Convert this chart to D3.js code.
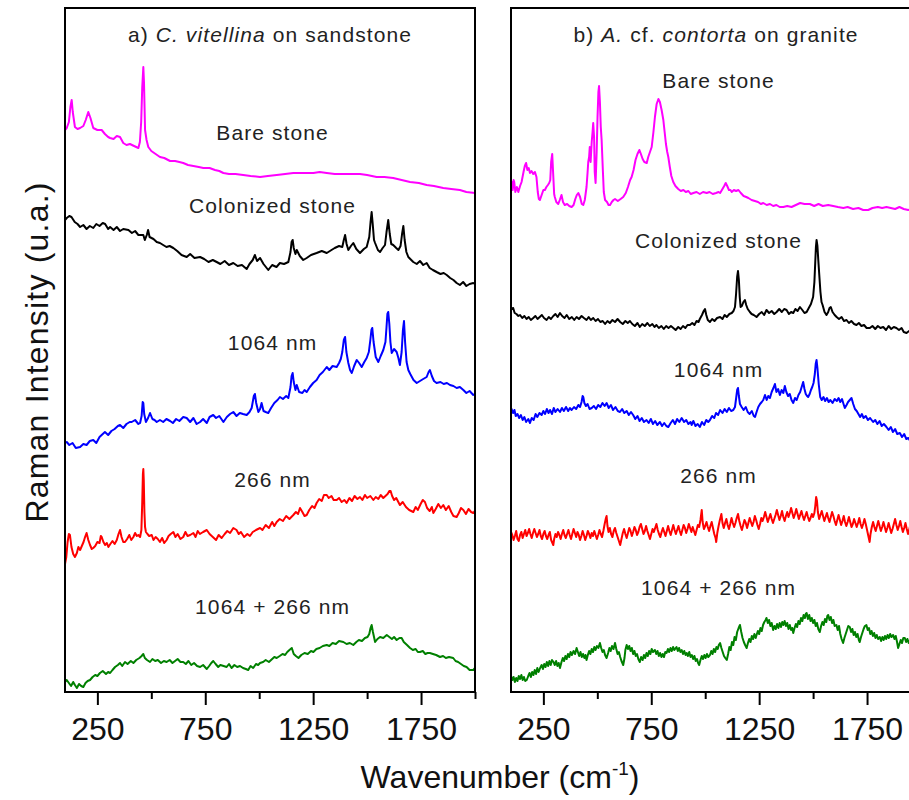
<!DOCTYPE html>
<html><head><meta charset="utf-8">
<script src="https://cdn.jsdelivr.net/npm/d3@7"></script>
<style>
html,body{margin:0;padding:0;background:#fff;}
svg{display:block;font-family:"Liberation Sans",Arial,sans-serif;}
</style></head>
<body>
<svg id="chart" width="909" height="800"></svg>
<script>
// ---- data: [wavenumber (cm-1), Raman intensity (arbitrary units, stacked offsets)] ----
const bareA = [[100,562],[108,564],[118,570],[125,585],[131,592],[136,580],[146,565],[158,563],[170,564],[185,566],[196,572],[208,580],[218,574],[231,564],[250,562],[270,562],[285,558],[300,555],[309,554],[325,553],[340,556],[355,555],[370,549],[385,547],[401,548],[420,546],[440,544],[447,550],[453,570],[458,605],[463,625],[466,610],[471,562],[478,552],[486,545],[500,541],[520,538],[540,535],[560,534],[587,531],[610,531],[630,530],[648,529],[670,527],[695,526],[720,525],[741,524],[770,524],[795,522],[815,521],[834,519],[860,518],[890,518],[926,517],[960,516],[1004,515],[1040,516],[1081,517],[1120,518],[1158,519],[1200,519],[1251,519],[1280,520],[1313,519],[1350,518],[1390,518],[1430,518],[1467,518],[1500,517],[1544,515],[1580,515],[1621,514],[1660,512],[1699,510],[1740,509],[1776,507],[1810,506],[1853,504],[1890,503],[1930,502],[1960,500],[2000,499]];
const colonizedA = [[100,472],[108,474],[120,476],[130,475],[145,470],[158,468],[170,465],[185,467],[200,463],[215,466],[231,464],[245,468],[260,466],[275,469],[286,468],[300,463],[309,465],[325,462],[340,465],[355,461],[370,463],[394,462],[410,459],[425,461],[440,457],[463,457],[470,452],[479,457],[485,462],[492,455],[510,453],[525,450],[540,449],[555,447],[570,445],[585,446],[602,444],[620,441],[640,437],[664,435],[680,438],[700,434],[726,435],[745,433],[765,430],[785,432],[803,430],[820,428],[840,431],[860,427],[880,429],[900,426],[920,427],[942,423],[955,428],[970,432],[980,437],[990,431],[1004,434],[1020,428],[1042,422],[1060,427],[1080,425],[1096,429],[1115,428],[1135,430],[1145,440],[1150,450],[1155,452],[1160,444],[1168,438],[1174,442],[1188,436],[1204,432],[1220,434],[1240,437],[1266,439],[1290,441],[1313,439],[1335,442],[1350,444],[1370,446],[1385,445],[1392,452],[1398,457],[1405,448],[1413,442],[1425,446],[1436,449],[1450,443],[1467,439],[1485,443],[1498,445],[1510,455],[1516,470],[1521,480],[1526,468],[1532,452],[1537,449],[1550,442],[1560,440],[1572,444],[1583,447],[1590,460],[1598,472],[1605,458],[1612,448],[1621,447],[1635,444],[1645,442],[1655,446],[1662,458],[1668,466],[1674,452],[1682,440],[1691,435],[1700,433],[1714,430],[1730,428],[1745,431],[1760,427],[1776,429],[1790,424],[1805,422],[1822,420],[1840,418],[1855,419],[1869,417],[1885,414],[1900,412],[1915,409],[1930,407],[1945,410],[1960,406],[1975,408],[1992,409],[2000,408]];
const nm1064A = [[100,249],[108,250],[120,247],[135,249],[150,244],[170,245],[185,248],[200,247],[215,251],[231,252],[245,249],[260,255],[275,258],[285,260],[300,257],[315,261],[330,263],[345,266],[355,267],[370,264],[385,268],[400,270],[409,270],[425,272],[440,268],[448,269],[455,276],[460,290],[463,289],[467,278],[475,270],[485,274],[494,279],[505,273],[515,272],[525,270],[540,272],[555,270],[570,273],[587,271],[600,269],[615,273],[630,271],[648,275],[664,274],[680,270],[695,274],[710,268],[726,270],[740,273],[757,269],[770,275],[787,277],[800,274],[815,276],[834,270],[850,275],[865,278],[880,280],[895,276],[910,279],[925,278],[942,277],[955,280],[965,284],[975,296],[980,298],[986,289],[996,280],[1004,283],[1011,289],[1020,281],[1030,280],[1042,279],[1055,284],[1070,289],[1085,292],[1096,295],[1110,293],[1125,296],[1135,294],[1145,305],[1150,316],[1155,319],[1160,310],[1168,302],[1174,307],[1185,300],[1200,299],[1210,302],[1220,300],[1235,305],[1250,309],[1266,312],[1280,317],[1295,320],[1313,325],[1325,322],[1340,326],[1359,325],[1370,329],[1378,333],[1385,340],[1392,352],[1398,355],[1404,340],[1413,329],[1421,322],[1429,319],[1440,326],[1452,332],[1463,329],[1475,325],[1487,330],[1498,334],[1508,340],[1515,352],[1520,362],[1524,364],[1530,350],[1540,335],[1552,330],[1563,336],[1575,342],[1585,350],[1590,365],[1594,378],[1598,380],[1603,368],[1608,350],[1614,339],[1625,343],[1637,340],[1645,334],[1652,327],[1660,340],[1666,362],[1671,371],[1676,350],[1683,330],[1691,322],[1700,318],[1715,312],[1730,309],[1745,311],[1760,313],[1776,315],[1785,320],[1791,322],[1800,316],[1810,311],[1822,309],[1840,310],[1855,308],[1870,309],[1884,307],[1900,306],[1915,304],[1930,305],[1946,302],[1960,299],[1975,301],[1992,297],[2000,298]];
const nm266A = [[100,128],[106,135],[112,150],[118,158],[123,157],[130,145],[138,138],[146,135],[155,139],[162,145],[170,142],[178,146],[186,150],[193,155],[200,159],[208,152],[216,147],[224,143],[231,144],[240,146],[250,150],[260,149],[266,156],[270,155],[278,150],[286,147],[294,149],[301,145],[310,148],[320,151],[330,148],[340,152],[348,158],[355,162],[362,155],[370,150],[378,150],[388,153],[398,157],[407,152],[417,155],[425,159],[433,156],[440,157],[448,155],[454,162],[458,190],[461,218],[463,223],[465,212],[468,180],[471,165],[475,160],[482,158],[490,156],[502,157],[510,152],[520,155],[530,153],[540,150],[550,154],[560,149],[571,152],[580,156],[590,158],[602,160],[612,155],[622,158],[635,153],[648,155],[658,160],[668,156],[680,157],[695,159],[705,155],[715,161],[725,158],[740,160],[757,162],[770,158],[785,155],[800,152],[812,157],[826,154],[840,158],[852,161],[865,159],[880,164],[895,162],[905,158],[915,160],[930,155],[945,158],[957,156],[970,160],[985,162],[1004,164],[1015,162],[1030,167],[1045,164],[1060,170],[1070,166],[1081,170],[1095,173],[1110,171],[1125,176],[1140,173],[1158,177],[1170,180],[1180,178],[1189,184],[1200,180],[1210,176],[1220,177],[1232,182],[1245,186],[1256,184],[1266,189],[1278,193],[1290,191],[1300,197],[1313,197],[1322,194],[1335,196],[1345,192],[1359,192],[1370,194],[1382,190],[1395,192],[1405,189],[1418,194],[1430,191],[1442,196],[1455,193],[1467,195],[1478,192],[1490,197],[1500,194],[1515,196],[1529,192],[1540,195],[1552,193],[1563,197],[1575,194],[1585,196],[1595,198],[1603,201],[1609,201],[1616,196],[1625,192],[1635,194],[1652,187],[1665,190],[1680,185],[1695,182],[1714,180],[1725,185],[1735,182],[1748,188],[1758,192],[1768,190],[1778,184],[1790,181],[1800,185],[1807,179],[1818,183],[1830,188],[1842,184],[1853,187],[1865,182],[1878,186],[1890,180],[1900,176],[1915,175],[1925,179],[1935,184],[1946,182],[1958,178],[1970,183],[1982,180],[1992,179],[2000,181]];
const nmBothA = [[100,10],[108,12],[118,9],[128,6],[138,10],[146,7],[155,4],[165,8],[175,6],[185,5],[195,9],[205,11],[216,12],[228,15],[240,17],[250,16],[262,19],[275,21],[290,18],[300,20],[309,19],[320,22],[332,25],[345,27],[355,29],[365,26],[378,30],[390,28],[405,31],[417,29],[430,32],[445,34],[455,36],[463,38],[470,34],[480,32],[494,30],[505,33],[518,31],[530,32],[545,29],[558,31],[571,30],[585,32],[598,29],[610,31],[622,33],[635,30],[648,30],[660,28],[672,31],[685,27],[698,29],[712,26],[726,25],[740,27],[757,23],[768,26],[778,29],[787,31],[798,28],[810,25],[820,27],[835,26],[849,25],[860,28],[872,24],[885,27],[898,25],[911,26],[925,24],[938,23],[949,22],[960,26],[972,24],[985,28],[995,27],[1004,29],[1018,30],[1030,32],[1045,30],[1060,33],[1070,35],[1081,34],[1095,36],[1108,38],[1120,37],[1130,40],[1140,42],[1151,44],[1160,38],[1170,36],[1182,34],[1195,37],[1210,39],[1225,38],[1240,41],[1251,40],[1265,43],[1280,44],[1295,46],[1313,47],[1325,46],[1340,49],[1355,48],[1370,51],[1390,50],[1405,48],[1420,49],[1436,47],[1450,50],[1462,52],[1476,51],[1490,54],[1502,55],[1510,58],[1516,64],[1521,67],[1527,60],[1537,50],[1548,53],[1560,55],[1575,54],[1591,57],[1603,55],[1615,53],[1625,55],[1637,52],[1650,54],[1660,54],[1670,50],[1685,47],[1699,44],[1712,42],[1725,43],[1735,40],[1745,40],[1758,41],[1770,38],[1780,39],[1791,39],[1805,38],[1820,37],[1838,35],[1852,36],[1865,34],[1880,35],[1899,34],[1910,31],[1922,30],[1935,28],[1948,26],[1961,25],[1975,22],[1992,22],[2000,24]];

const bareB = [[100,505],[104,510],[108,502],[112,512],[115,510],[120,500],[127,505],[134,500],[142,506],[149,510],[158,520],[164,526],[170,529],[176,522],[182,524],[188,519],[195,521],[203,518],[211,520],[218,515],[224,500],[229,493],[234,492],[242,497],[250,502],[257,502],[264,505],[271,507],[277,509],[282,512],[286,530],[291,538],[295,520],[300,498],[303,495],[310,490],[319,488],[326,492],[334,497],[341,490],[349,487],[360,488],[370,486],[381,485],[390,487],[398,493],[405,497],[412,499],[420,495],[428,488],[435,487],[442,492],[450,505],[455,520],[458,530],[462,535],[465,545],[469,530],[474,550],[478,560],[481,569],[485,555],[488,520],[492,509],[497,540],[501,575],[505,600],[508,606],[512,590],[516,565],[520,552],[526,520],[530,500],[536,492],[545,490],[552,487],[559,487],[567,490],[575,492],[582,493],[595,491],[608,493],[620,495],[632,499],[642,505],[652,512],[659,515],[668,522],[677,532],[686,538],[695,542],[702,538],[710,533],[718,530],[729,529],[736,535],[744,540],[752,545],[760,560],[767,575],[775,588],[783,593],[790,590],[798,582],[806,572],[812,560],[818,548],[824,540],[829,535],[836,525],[843,516],[852,510],[862,506],[875,503],[887,501],[899,502],[910,500],[922,501],[933,498],[945,499],[960,500],[975,498],[990,500],[1007,499],[1020,500],[1035,498],[1050,499],[1062,500],[1069,499],[1080,503],[1088,506],[1095,509],[1102,506],[1110,502],[1117,502],[1123,500],[1133,502],[1143,501],[1154,502],[1165,499],[1178,496],[1190,495],[1200,494],[1215,492],[1230,491],[1245,490],[1258,488],[1269,489],[1285,487],[1300,488],[1315,486],[1330,487],[1345,485],[1362,485],[1380,486],[1400,485],[1420,487],[1440,489],[1460,488],[1485,488],[1505,486],[1525,488],[1545,486],[1570,487],[1593,486],[1615,485],[1640,484],[1660,485],[1685,483],[1710,484],[1732,482],[1755,482],[1775,484],[1800,485],[1820,484],[1840,485],[1860,484],[1880,483],[1900,485],[1920,483],[1941,482],[1960,483],[1980,482],[2000,482]];
const colonizedB = [[100,385],[105,383],[110,384],[117,379],[125,378],[134,376],[142,377],[152,374],[162,376],[172,373],[182,375],[192,372],[203,374],[213,376],[223,373],[233,375],[243,377],[253,374],[265,372],[275,375],[285,373],[296,376],[306,378],[316,375],[327,379],[337,376],[348,374],[358,377],[370,373],[382,375],[393,372],[404,375],[415,373],[427,376],[438,374],[450,372],[460,375],[470,372],[481,374],[492,371],[503,373],[514,370],[525,371],[536,368],[547,371],[558,369],[570,372],[582,370],[594,373],[606,370],[618,368],[630,371],[641,369],[651,371],[662,368],[674,366],[686,369],[697,365],[708,368],[720,366],[732,369],[743,366],[755,368],[765,365],[774,367],[785,364],[797,366],[808,363],[819,366],[830,364],[841,366],[852,364],[863,362],[875,365],[886,363],[897,366],[908,364],[918,367],[929,367],[940,369],[950,367],[960,371],[969,370],[975,373],[985,377],[993,381],[999,383],[1005,377],[1012,372],[1022,370],[1032,373],[1043,371],[1055,374],[1069,375],[1080,373],[1090,377],[1100,375],[1112,378],[1123,379],[1131,381],[1138,385],[1143,398],[1148,415],[1152,421],[1156,412],[1160,395],[1164,385],[1170,386],[1177,390],[1184,392],[1190,387],[1197,383],[1207,380],[1215,378],[1225,377],[1238,375],[1250,378],[1262,380],[1273,377],[1284,382],[1296,379],[1308,381],[1320,378],[1331,380],[1343,383],[1355,380],[1366,383],[1377,382],[1388,378],[1398,380],[1408,379],[1418,383],[1428,381],[1439,385],[1450,382],[1460,379],[1470,380],[1480,384],[1490,388],[1500,395],[1506,410],[1510,430],[1513,445],[1516,452],[1520,446],[1524,432],[1528,419],[1534,400],[1539,390],[1544,387],[1553,380],[1562,377],[1570,380],[1576,384],[1582,385],[1590,380],[1600,377],[1609,375],[1620,373],[1632,375],[1643,371],[1655,372],[1666,369],[1677,371],[1690,368],[1701,367],[1712,369],[1724,366],[1736,367],[1748,364],[1763,364],[1775,366],[1788,363],[1800,366],[1812,364],[1825,365],[1838,362],[1850,366],[1862,363],[1874,365],[1886,364],[1898,362],[1910,364],[1920,360],[1933,359],[1945,361],[1958,358],[1970,360],[1985,358],[2000,359]];
const nm1064B = [[100,284],[104,282],[110,279],[116,282],[122,276],[130,278],[138,274],[146,277],[154,272],[162,275],[170,270],[180,273],[188,269],[196,274],[205,272],[214,278],[222,275],[232,279],[242,277],[250,281],[258,278],[266,283],[274,279],[281,282],[290,278],[298,284],[306,280],[316,283],[327,280],[336,284],[345,281],[355,285],[365,281],[373,284],[381,282],[392,285],[402,283],[412,287],[420,285],[427,290],[432,296],[435,295],[440,289],[447,286],[455,288],[464,283],[474,284],[484,286],[494,283],[504,287],[514,285],[524,289],[534,286],[543,289],[553,284],[563,287],[573,282],[584,285],[595,281],[605,280],[615,283],[625,279],[636,281],[646,277],[656,280],[666,277],[676,273],[686,276],[696,271],[706,274],[716,270],[728,272],[738,269],[748,273],[758,268],[768,271],[778,267],[790,270],[800,266],[810,269],[820,266],[829,265],[840,269],[850,272],[860,268],[870,273],[880,270],[891,274],[902,270],[912,272],[922,268],[932,270],[937,267],[945,271],[955,266],[965,268],[975,265],[985,270],[995,267],[1005,272],[1014,270],[1022,272],[1032,276],[1042,274],[1050,279],[1060,277],[1069,282],[1080,279],[1090,283],[1100,280],[1110,284],[1120,281],[1130,282],[1138,285],[1144,295],[1148,302],[1152,304],[1156,296],[1161,288],[1169,285],[1178,282],[1188,285],[1197,280],[1206,278],[1216,281],[1225,276],[1231,275],[1238,280],[1246,285],[1254,288],[1262,290],[1269,292],[1277,297],[1285,292],[1292,296],[1300,294],[1308,300],[1316,304],[1323,308],[1330,300],[1338,303],[1346,297],[1354,302],[1362,299],[1369,306],[1376,300],[1384,296],[1392,298],[1400,292],[1408,289],[1416,294],[1424,292],[1432,297],[1440,300],[1447,305],[1454,310],[1460,303],[1466,298],[1472,296],[1477,295],[1484,298],[1490,302],[1496,305],[1502,309],[1508,318],[1512,328],[1516,332],[1520,324],[1526,308],[1533,295],[1540,292],[1548,295],[1556,291],[1564,294],[1572,290],[1580,292],[1590,289],[1600,293],[1610,291],[1618,294],[1626,290],[1634,293],[1641,288],[1647,284],[1655,287],[1662,290],[1670,292],[1678,294],[1686,288],[1694,283],[1702,281],[1710,278],[1718,275],[1726,278],[1734,274],[1744,276],[1754,272],[1764,274],[1778,270],[1788,272],[1798,268],[1808,271],[1818,266],[1828,268],[1840,265],[1850,262],[1860,265],[1870,260],[1880,263],[1890,258],[1902,259],[1912,255],[1922,258],[1932,253],[1941,254],[1950,251],[1960,255],[1970,252],[1980,254],[1990,251],[2000,252]];
const nm266B = [[100,160],[106,157],[112,152],[118,156],[124,161],[130,153],[136,151],[142,157],[148,160],[154,154],[160,158],[166,162],[172,156],[178,159],[184,163],[190,158],[196,154],[202,159],[208,163],[214,159],[220,155],[226,158],[232,162],[238,156],[244,153],[250,158],[256,161],[262,156],[268,153],[274,157],[280,160],[286,152],[292,149],[296,147],[300,153],[306,158],[312,155],[318,160],[324,157],[330,153],[336,158],[342,162],[348,157],[354,154],[360,158],[366,162],[372,157],[378,153],[384,158],[390,163],[396,159],[402,155],[408,160],[414,157],[420,152],[426,156],[432,161],[438,157],[444,152],[450,156],[456,161],[462,158],[468,154],[474,159],[480,156],[486,161],[492,157],[498,153],[504,157],[510,162],[516,158],[522,155],[528,161],[534,168],[540,174],[543,176],[547,166],[552,160],[558,164],[564,158],[570,155],[576,161],[582,164],[588,159],[594,155],[600,151],[606,147],[612,153],[618,159],[624,163],[630,158],[636,154],[642,159],[648,164],[654,161],[660,156],[666,160],[672,165],[678,162],[684,157],[690,160],[696,165],[702,168],[708,163],[714,158],[720,161],[726,166],[732,161],[738,157],[744,153],[750,158],[756,163],[762,160],[768,164],[774,168],[780,162],[786,158],[792,155],[798,160],[804,164],[810,160],[816,156],[822,161],[828,166],[834,161],[840,157],[846,162],[852,167],[858,162],[864,158],[870,162],[876,166],[882,161],[888,157],[894,162],[900,167],[906,164],[912,159],[918,163],[924,168],[930,164],[936,160],[942,165],[948,161],[954,157],[960,162],[966,167],[972,165],[978,172],[984,182],[988,170],[994,163],[1000,166],[1006,170],[1012,165],[1018,161],[1024,166],[1030,170],[1036,164],[1042,158],[1048,154],[1051,150],[1056,159],[1062,166],[1068,172],[1075,178],[1080,169],[1086,164],[1092,169],[1098,173],[1104,167],[1110,163],[1116,168],[1122,174],[1128,169],[1134,165],[1140,169],[1146,174],[1152,178],[1158,171],[1164,166],[1170,162],[1176,167],[1182,172],[1188,169],[1194,164],[1200,169],[1206,174],[1212,170],[1218,166],[1224,170],[1230,176],[1236,172],[1242,167],[1248,163],[1254,168],[1260,174],[1266,171],[1272,175],[1278,180],[1284,175],[1290,170],[1296,174],[1302,178],[1308,173],[1314,169],[1320,173],[1326,177],[1332,182],[1338,177],[1344,172],[1350,176],[1356,181],[1362,175],[1368,171],[1374,176],[1380,180],[1386,175],[1392,179],[1398,184],[1404,179],[1410,174],[1416,178],[1422,183],[1428,178],[1434,173],[1440,177],[1446,181],[1452,176],[1458,172],[1464,176],[1470,180],[1476,175],[1482,171],[1488,174],[1494,178],[1500,175],[1506,179],[1510,186],[1514,195],[1518,191],[1522,180],[1528,173],[1534,177],[1540,181],[1546,176],[1552,171],[1558,175],[1564,179],[1570,174],[1576,170],[1582,175],[1588,180],[1594,176],[1600,171],[1606,167],[1612,172],[1618,177],[1624,172],[1630,167],[1636,171],[1642,176],[1648,170],[1654,166],[1660,170],[1666,175],[1672,170],[1678,165],[1684,168],[1690,173],[1696,169],[1702,165],[1708,169],[1714,174],[1720,168],[1726,164],[1732,168],[1738,173],[1744,168],[1750,162],[1756,156],[1762,150],[1766,158],[1772,165],[1778,170],[1784,165],[1790,161],[1796,166],[1802,171],[1808,166],[1814,161],[1820,165],[1826,170],[1832,165],[1838,160],[1844,164],[1850,169],[1856,164],[1862,159],[1868,163],[1874,168],[1880,173],[1886,167],[1892,162],[1898,166],[1904,171],[1910,165],[1916,160],[1922,164],[1928,169],[1934,163],[1940,158],[1946,163],[1952,168],[1958,163],[1964,158],[1970,162],[1976,167],[1982,162],[1988,157],[1994,161],[2000,164]];
const nmBothB = [[100,16],[106,12],[112,15],[118,10],[124,14],[130,11],[136,16],[142,13],[148,17],[154,12],[160,15],[166,11],[173,12],[180,16],[186,19],[192,15],[198,20],[204,17],[210,22],[216,18],[222,24],[228,20],[235,24],[242,27],[248,23],[254,28],[260,25],[266,30],[272,26],[278,31],[284,27],[290,32],[297,30],[303,27],[309,31],[315,26],[321,29],[327,24],[334,30],[340,34],[346,31],[352,36],[358,33],[364,38],[370,35],[376,40],[382,37],[390,41],[397,38],[404,44],[410,40],[416,36],[422,40],[428,35],[434,38],[440,34],[445,37],[450,32],[456,37],[462,41],[468,38],[474,43],[480,40],[486,45],[492,42],[498,46],[505,44],[512,49],[518,44],[524,40],[530,42],[536,37],[543,34],[550,39],[556,44],[562,41],[568,46],[575,43],[582,49],[588,43],[594,38],[600,40],[606,35],[612,31],[620,27],[626,34],[630,42],[636,47],[642,43],[648,46],[654,41],[660,44],[666,38],[672,41],[678,36],[684,38],[690,33],[697,30],[703,35],[710,32],[716,37],[722,34],[728,39],[734,36],[740,41],[746,38],[752,43],[758,40],[767,42],[773,38],[779,41],[785,36],[791,39],[797,35],[803,38],[809,35],[815,40],[821,39],[827,43],[833,40],[839,44],[845,41],[851,45],[857,42],[867,45],[873,41],[879,44],[885,40],[891,42],[897,38],[903,41],[909,37],[914,39],[920,36],[926,40],[932,35],[938,37],[944,33],[950,36],[956,31],[962,33],[967,29],[972,27],[978,32],[984,36],[990,33],[996,37],[1002,34],[1008,38],[1014,35],[1022,37],[1028,41],[1034,38],[1040,43],[1046,40],[1052,45],[1058,43],[1063,47],[1069,49],[1075,44],[1081,40],[1087,36],[1093,34],[1100,32],[1106,38],[1112,45],[1118,42],[1124,50],[1130,47],[1136,55],[1142,52],[1148,60],[1155,64],[1161,67],[1167,60],[1173,54],[1179,50],[1185,47],[1192,44],[1198,49],[1204,53],[1210,50],[1216,56],[1222,53],[1228,58],[1234,54],[1238,57],[1244,61],[1250,58],[1256,64],[1262,61],[1268,67],[1274,70],[1280,72],[1284,74],[1290,69],[1296,72],[1302,66],[1308,69],[1315,62],[1321,66],[1327,63],[1333,68],[1339,64],[1345,69],[1351,65],[1357,70],[1362,67],[1368,71],[1374,66],[1380,69],[1386,63],[1392,67],[1398,62],[1403,64],[1408,59],[1414,64],[1420,68],[1426,65],[1432,71],[1438,68],[1444,74],[1450,71],[1456,77],[1462,74],[1466,78],[1470,79],[1476,73],[1482,77],[1488,71],[1494,74],[1500,69],[1506,72],[1512,66],[1518,69],[1524,63],[1531,60],[1537,66],[1543,70],[1549,67],[1555,73],[1561,70],[1566,76],[1570,77],[1576,72],[1582,75],[1588,69],[1594,72],[1600,66],[1608,67],[1614,62],[1620,66],[1626,58],[1632,53],[1639,49],[1645,54],[1651,58],[1657,62],[1663,66],[1670,65],[1676,60],[1682,63],[1688,57],[1694,60],[1700,55],[1706,58],[1712,52],[1716,50],[1722,55],[1728,59],[1734,63],[1740,66],[1747,67],[1753,62],[1759,64],[1765,58],[1771,61],[1777,56],[1783,59],[1789,54],[1795,57],[1801,53],[1809,55],[1815,51],[1821,55],[1827,52],[1833,56],[1839,53],[1845,57],[1851,54],[1857,58],[1863,55],[1871,57],[1877,53],[1883,56],[1889,50],[1894,44],[1900,48],[1906,52],[1912,49],[1918,54],[1925,54],[1931,50],[1937,53],[1943,49],[1949,52],[1955,48],[1961,51],[1967,47],[1973,50],[1979,47],[1985,51],[1991,48],[2000,52]];

const seriesNames = ["Bare stone", "Colonized stone", "1064 nm", "266 nm", "1064 + 266 nm"];
const seriesColors = ["#ff00ff", "#000000", "#0000ff", "#ff0000", "#008000"];
const panelASeries = [bareA, colonizedA, nm1064A, nm266A, nmBothA];
const panelBSeries = [bareB, colonizedB, nm1064B, nm266B, nmBothB];
// label baselines (same arbitrary intensity units)
const panelALabelLevels = [552, 479, 342, 205, 78];
const panelBLabelLevels = [604, 444, 315, 209, 97];
const majorTicks = [250, 750, 1250, 1750];
const minorTicks = [500, 1000, 1500, 2000];
const xDomain = [100, 2000];
const yDomain = [0, 684];

// ---- drawing ----
(function () {
const svg = d3.select("#chart");
svg.append("rect").attr("width", 909).attr("height", 800).attr("fill", "#fff");

const plotTop = 8, plotBottom = 692, pw = 410;
const y = d3.scaleLinear().domain(yDomain).range([plotBottom, plotTop]);

const panels = [
  {left: 65, series: panelASeries, levels: panelALabelLevels,
   title: [["a) ", "normal"], ["C. vitellina", "italic"], [" on sandstone", "normal"]]},
  {left: 511, series: panelBSeries, levels: panelBLabelLevels,
   title: [["b) ", "normal"], ["A.", "italic"], [" cf. ", "normal"], ["contorta", "italic"], [" on granite", "normal"]]}
];

panels.forEach((p, pi) => {
  const x = d3.scaleLinear().domain(xDomain).range([p.left, p.left + pw]);
  const g = svg.append("g");
  const clipId = "clip" + pi;
  svg.append("clipPath").attr("id", clipId).append("rect")
    .attr("x", p.left).attr("y", plotTop).attr("width", pw).attr("height", plotBottom - plotTop);

  const line = d3.line().x(d => x(d[0])).y(d => y(d[1]));
  p.series.forEach((s, i) => {
    g.append("path").datum(s)
      .attr("clip-path", `url(#${clipId})`)
      .attr("d", line)
      .attr("fill", "none")
      .attr("stroke", seriesColors[i])
      .attr("stroke-width", 2)
      .attr("stroke-linejoin", "round");
  });

  p.series.forEach((s, i) => {
    g.append("text")
      .attr("x", x(1062)).attr("y", y(p.levels[i]))
      .attr("text-anchor", "middle")
      .attr("font-size", 21).attr("letter-spacing", "1.1px")
      .attr("fill", "#222")
      .text(seriesNames[i]);
  });

  const t = g.append("text")
    .attr("x", p.left + pw / 2).attr("y", 42)
    .attr("text-anchor", "middle")
    .attr("font-size", 21).attr("letter-spacing", "1.1px")
    .attr("fill", "#222")
    .style("white-space", "pre");
  p.title.forEach(([txt, st]) => t.append("tspan").attr("font-style", st).text(txt));

  const majorAxis = d3.axisBottom(x).tickValues(majorTicks).tickSize(13).tickFormat(d3.format("d"));
  const minorAxis = d3.axisBottom(x).tickValues(minorTicks).tickSize(7).tickFormat("");
  const ga = g.append("g").attr("transform", `translate(0,${plotBottom})`).call(majorAxis);
  const gm = g.append("g").attr("transform", `translate(0,${plotBottom})`).call(minorAxis);
  [ga, gm].forEach(a => {
    a.select(".domain").remove();
    a.selectAll("line").attr("stroke", "#000").attr("stroke-width", 2);
  });
  ga.selectAll("text")
    .attr("y", 48).attr("dy", 0)
    .attr("font-size", 32).attr("font-family", "'Liberation Sans', Arial, sans-serif")
    .attr("fill", "#111");

  g.append("rect")
    .attr("x", p.left).attr("y", plotTop).attr("width", pw).attr("height", plotBottom - plotTop)
    .attr("fill", "none").attr("stroke", "#000").attr("stroke-width", 2);
});

const xt = svg.append("text")
  .attr("x", 500).attr("y", 788)
  .attr("text-anchor", "middle")
  .attr("font-size", 32).attr("fill", "#111");
xt.append("tspan").text("Wavenumber (cm");
xt.append("tspan").attr("font-size", 19).attr("dy", -13).text("-1");
xt.append("tspan").attr("dy", 13).text(")");

svg.append("text")
  .attr("transform", "translate(48,352) rotate(-90)")
  .attr("text-anchor", "middle")
  .attr("font-size", 32).attr("letter-spacing", "1.2px")
  .attr("fill", "#111")
  .text("Raman Intensity (u.a.)");
})();
</script>
</body></html>
